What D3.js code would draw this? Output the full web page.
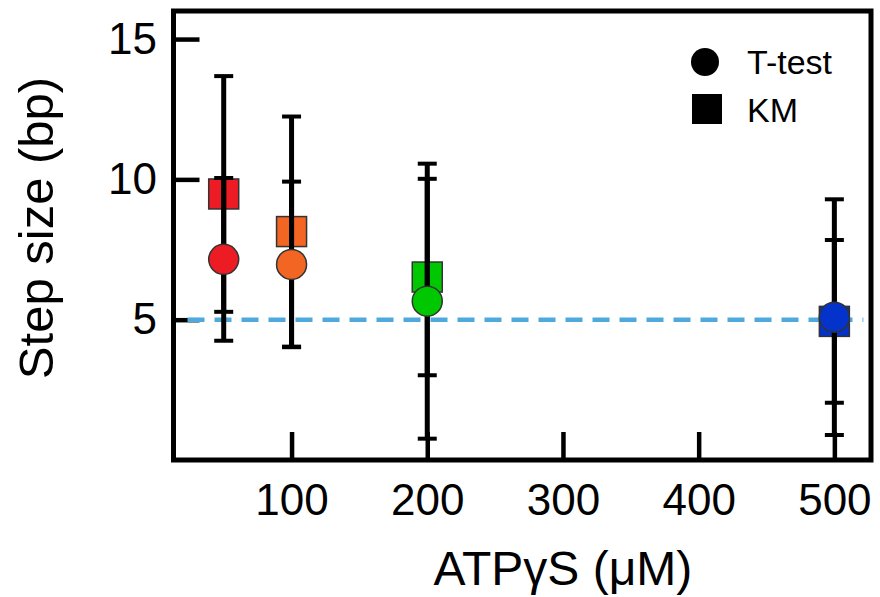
<!DOCTYPE html>
<html>
<head>
<meta charset="utf-8">
<script src="https://cdn.jsdelivr.net/npm/d3@7"></script>
<style>
  body { margin: 0; background: #fff; }
  text { font-family: "Liberation Sans", Arial, sans-serif; fill: #000; }
</style>
</head>
<body>
<div id="chart"></div>
<script>
// ATPgS concentration (uM)
const conc = [50, 100, 200, 500];
// step size from T-test (bp), with +/- error
const ttestMean = [7.15, 6.97, 5.66, 5.09];
const ttestErr = [2.9, 2.95, 4.9, 4.2];
// step size from KM (bp), with +/- error
const kmMean = [9.48, 8.14, 6.52, 4.94];
const kmErr = [4.2, 4.1, 3.5, 2.9];
const pointColors = ["#ED1C24", "#F26522", "#00C800", "#0433CC"];

const xTicks = [100, 200, 300, 400, 500];
const yTicks = [5, 10, 15];
const refLine = 5;

const W = 880, H = 597;
const margin = { top: 11, right: 9, bottom: 137, left: 173.5 };
const width = W - margin.left - margin.right;
const height = H - margin.top - margin.bottom;

const svg = d3.select("#chart").append("svg")
  .attr("width", W).attr("height", H);
const g = svg.append("g")
  .attr("transform", `translate(${margin.left},${margin.top})`);

const x = d3.scaleLinear().domain([13, 527]).range([0, width]);
const y = d3.scaleLinear().domain([0, 16]).range([height, 0]);

// axes (ticks point inward)
const yAxis = g.append("g")
  .call(d3.axisLeft(y).tickValues(yTicks).tickSizeInner(-26).tickSizeOuter(0).tickPadding(16.5));
const xAxis = g.append("g")
  .attr("transform", `translate(0,${height})`)
  .call(d3.axisBottom(x).tickValues(xTicks).tickSizeInner(-28).tickSizeOuter(0).tickPadding(24));
[yAxis, xAxis].forEach(a => {
  a.select(".domain").remove();
  a.selectAll(".tick line").attr("stroke", "#000").attr("stroke-width", 4.5);
  a.selectAll(".tick text").style("font-size", "44px").attr("fill", "#000");
});

// reference line at 5 bp
g.append("line")
  .attr("x1", 14).attr("x2", x(500) + 29)
  .attr("y1", y(refLine)).attr("y2", y(refLine))
  .attr("stroke", "#4FA9DC").attr("stroke-width", 4.5)
  .attr("stroke-dasharray", "17 10");

const pts = conc.map((c, i) => ({
  c, color: pointColors[i],
  t: ttestMean[i], te: ttestErr[i],
  k: kmMean[i], ke: kmErr[i]
}));

const sq = 30;
// KM squares (under the error bars)
g.selectAll(".km").data(pts).enter().append("rect")
  .attr("class", "km")
  .attr("x", d => x(d.c) - sq / 2)
  .attr("y", d => y(d.k) - sq / 2)
  .attr("width", sq).attr("height", sq)
  .attr("fill", d => d.color)
  .attr("stroke", "#333").attr("stroke-width", 1.5);

// error bars for both series
const bars = [];
pts.forEach(d => {
  bars.push({ c: d.c, lo: d.t - d.te, hi: d.t + d.te });
  bars.push({ c: d.c, lo: d.k - d.ke, hi: d.k + d.ke });
});
const eb = g.selectAll(".err").data(bars).enter().append("g").attr("class", "err");
eb.append("line")
  .attr("x1", d => x(d.c)).attr("x2", d => x(d.c))
  .attr("y1", d => y(d.lo)).attr("y2", d => y(d.hi))
  .attr("stroke", "#000").attr("stroke-width", 5);
["lo", "hi"].forEach(key => {
  eb.append("line")
    .attr("x1", d => x(d.c) - 9.5).attr("x2", d => x(d.c) + 9.5)
    .attr("y1", d => y(d[key])).attr("y2", d => y(d[key]))
    .attr("stroke", "#000").attr("stroke-width", 4);
});

// T-test circles on top
g.selectAll(".tt").data(pts).enter().append("circle")
  .attr("class", "tt")
  .attr("cx", d => x(d.c)).attr("cy", d => y(d.t))
  .attr("r", 15)
  .attr("fill", d => d.color)
  .attr("stroke", "#333").attr("stroke-width", 1.5);

// frame
g.append("rect")
  .attr("width", width).attr("height", height)
  .attr("fill", "none").attr("stroke", "#000").attr("stroke-width", 5);

// legend
const lg = svg.append("g");
lg.append("circle").attr("cx", 705).attr("cy", 62).attr("r", 14).attr("fill", "#000");
lg.append("rect").attr("x", 692).attr("y", 94).attr("width", 30).attr("height", 30).attr("fill", "#000");
lg.append("text").attr("x", 747).attr("y", 74).style("font-size", "34px").text("T-test");
lg.append("text").attr("x", 747).attr("y", 122).style("font-size", "34px").text("KM");

// axis titles
svg.append("text")
  .attr("x", margin.left + x(300)).attr("y", 585)
  .attr("text-anchor", "middle").style("font-size", "48px")
  .text("ATPγS (μM)");
svg.append("text")
  .attr("transform", "translate(53,228) rotate(-90)")
  .attr("text-anchor", "middle").style("font-size", "49px")
  .text("Step size (bp)");
</script>
</body>
</html>
